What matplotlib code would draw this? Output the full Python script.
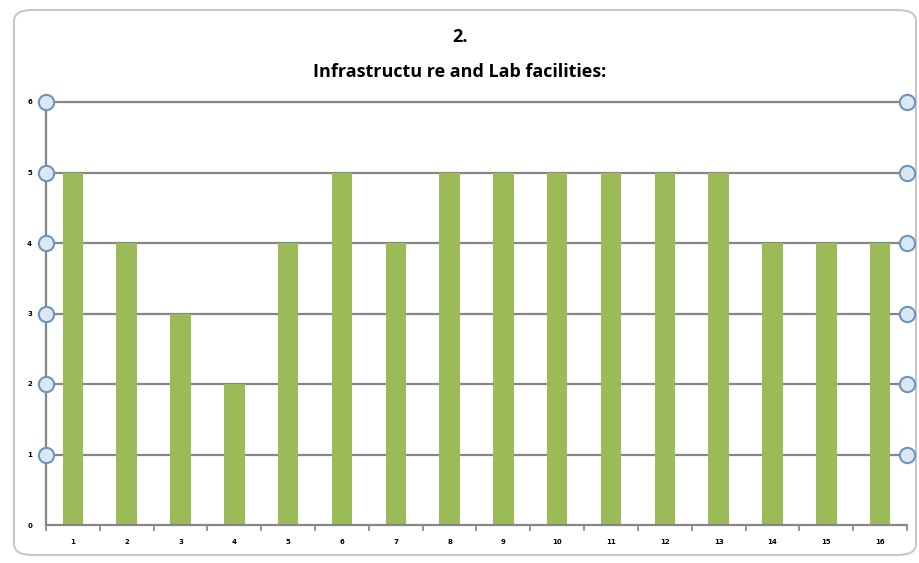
import matplotlib.pyplot as plt
from matplotlib.patches import FancyBboxPatch

# Data
categories = [str(i) for i in range(1, 17)]
scores = [5, 4, 3, 2, 4, 5, 4, 5, 5, 5, 5, 5, 5, 4, 4, 4]
y_ticks = [0, 1, 2, 3, 4, 5, 6]

fig = plt.figure(figsize=(9.2, 5.63), dpi=100)

# Excel-style chart frame with rounded corners
frame = FancyBboxPatch((14 / 920, 8 / 563), 902 / 920, 545 / 563,
                       boxstyle="round,pad=0,rounding_size=0.02",
                       transform=fig.transFigure, facecolor='white',
                       edgecolor='#c8c8c8', linewidth=1.5, zorder=-10)
fig.patches.append(frame)

ax = fig.add_axes([46 / 920, 38 / 563, 861 / 920, 423 / 563])
ax.set_facecolor('none')

x = list(range(len(categories)))
ax.bar(x, scores, width=0.38, color='#9BBB59', zorder=2)

ax.set_xlim(-0.5, len(categories) - 0.5)
ax.set_ylim(0, 6)

# Gridlines
for v in y_ticks[1:]:
    ax.axhline(v, color='#868686', linewidth=1.6, zorder=1, clip_on=False)

# Selection handles on the gridlines
for v in y_ticks[1:]:
    ax.plot([-0.5, len(categories) - 0.5], [v, v], linestyle='none',
            marker='o', markersize=11, markerfacecolor='#dbe8f3',
            markeredgecolor='#6d95bd', markeredgewidth=1.5,
            clip_on=False, zorder=5)

# Axes styling
for side in ['top', 'right']:
    ax.spines[side].set_visible(False)
ax.spines['left'].set_color('#868686')
ax.spines['left'].set_linewidth(1.6)
ax.spines['bottom'].set_color('#868686')
ax.spines['bottom'].set_linewidth(1.6)

ax.set_yticks(y_ticks)
ax.set_yticklabels([str(v) for v in y_ticks], fontsize=5, fontweight='bold')
ax.tick_params(axis='y', length=0, pad=10)

ax.set_xticks(x)
ax.set_xticklabels(categories, fontsize=5, fontweight='bold')
ax.tick_params(axis='x', length=0, pad=10)
# Tick marks between categories
ax.set_xticks([i - 0.5 for i in range(len(categories) + 1)], minor=True)
ax.tick_params(axis='x', which='minor', length=4, color='#868686', width=1.2)

# Title
fig.text(0.5, 1 - 37 / 563, '2.', ha='center', va='center',
         fontsize=13, fontweight='bold', family='Open Sans')
fig.text(0.5, 1 - 72 / 563, 'Infrastructu re and Lab facilities:',
         ha='center', va='center', fontsize=13, fontweight='bold',
         family='Open Sans')

plt.savefig('out.png', dpi=100)
